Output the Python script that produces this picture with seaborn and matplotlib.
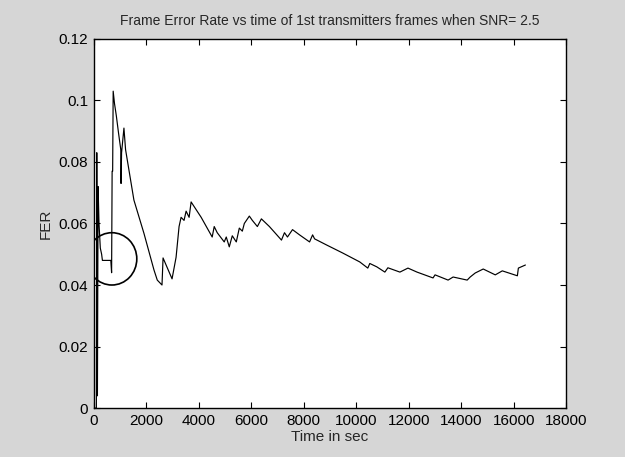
import numpy as np
import pandas as pd
import matplotlib
matplotlib.use("Agg")
import matplotlib.pyplot as plt
from matplotlib.patches import Ellipse
import seaborn as sns

# Frame error rate of the 1st transmitter's frames over time (SNR = 2.5)
time_sec = [
    0, 100, 115, 140, 165, 200, 250, 300, 330, 380, 650, 680, 700, 720, 740,
    790, 860, 950, 1030, 1040, 1060, 1150, 1212, 1530, 1912, 2294, 2420, 2600,
    2640, 2983, 3136, 3250, 3327, 3440, 3518, 3633, 3709, 4092, 4512, 4589,
    4704, 4971, 5048, 5163, 5277, 5430, 5545, 5660, 5736, 5927, 6042, 6233,
    6386, 6692, 7151, 7266, 7380, 7572, 7839, 8222, 8337, 8413, 8872, 9484,
    10134, 10440, 10516, 10784, 11090, 11205, 11663, 11970, 12314, 12925,
    13002, 13499, 13690, 14226, 14340, 14531, 14837, 15296, 15564, 16138,
    16176, 16444,
]
fer = [
    0.0, 0.0, 0.083, 0.004, 0.072, 0.060, 0.052, 0.050, 0.048, 0.048, 0.048,
    0.044, 0.077, 0.077, 0.103, 0.099, 0.095, 0.089, 0.084, 0.073, 0.083,
    0.091, 0.084, 0.0676, 0.0568, 0.0449, 0.0416, 0.040,
    0.0488, 0.042, 0.049, 0.059, 0.062, 0.061, 0.064, 0.062, 0.067, 0.062,
    0.0556, 0.059, 0.057, 0.054, 0.0556, 0.0524, 0.056, 0.054, 0.0585,
    0.0575, 0.060, 0.0624, 0.061, 0.059, 0.0615, 0.059, 0.0546, 0.057,
    0.0556, 0.058, 0.0563, 0.054, 0.0563, 0.055, 0.053, 0.0504, 0.0475,
    0.0455, 0.047, 0.0459, 0.0442, 0.0456, 0.0442, 0.0455, 0.0442, 0.0423,
    0.0433, 0.0416, 0.0426, 0.0416, 0.0426, 0.0439, 0.0452, 0.0433, 0.0446,
    0.043, 0.0455, 0.0465,
]

x_ticks = list(range(0, 18001, 2000))
y_ticks = [0, 0.02, 0.04, 0.06, 0.08, 0.1, 0.12]
y_tick_labels = ["0", "0.02", "0.04", "0.06", "0.08", "0.1", "0.12"]

df = pd.DataFrame({"time": time_sec, "fer": fer})

sns.set_style("ticks")
plt.rcParams["font.family"] = ["Liberation Sans", "DejaVu Sans"]

fig = plt.figure(figsize=(6.25, 4.57), dpi=100, facecolor="#d6d6d6")
ax = fig.add_axes([0.150, 0.107, 0.756, 0.808])
ax.set_facecolor("white")

sns.lineplot(data=df, x="time", y="fer", ax=ax, color="black",
             linewidth=0.85, estimator=None, sort=False)

# highlight the start-up transient
ax.add_patch(Ellipse((690, 0.0485), width=1900, height=0.0170,
                     fill=False, edgecolor="black", linewidth=1.2))

ax.set_xlim(0, 18000)
ax.set_ylim(0, 0.12)
ax.set_xticks(x_ticks)
ax.set_xticklabels([str(t) for t in x_ticks])
ax.set_yticks(y_ticks)
ax.set_yticklabels(y_tick_labels)
ax.tick_params(direction="in", top=True, right=True, length=4, width=0.8,
               labelsize=11, colors="black", pad=4)
for s in ax.spines.values():
    s.set_color("black")
    s.set_linewidth(1.0)

ax.set_title("Frame Error Rate vs time of 1st transmitters frames when SNR= 2.5",
             fontsize=10, pad=10)
ax.set_xlabel("Time in sec", fontsize=11, labelpad=2)
ax.set_ylabel("FER", fontsize=11, labelpad=4)

fig.savefig("out.png", dpi=100, facecolor=fig.get_facecolor())
